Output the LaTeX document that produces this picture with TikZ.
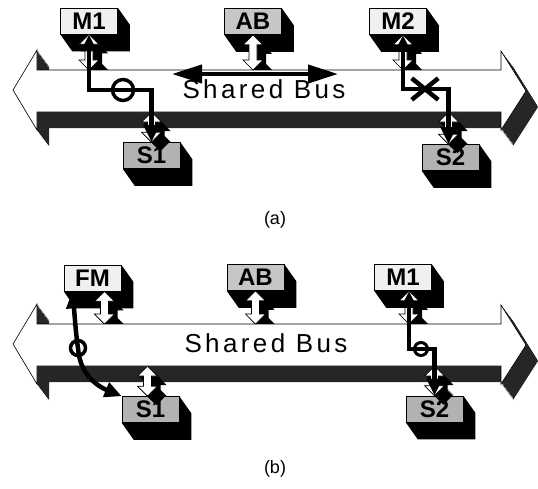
\documentclass[tikz,border=0pt]{standalone}
\usepackage{fontspec}
\setmainfont{Liberation Sans}
\newfontfamily\busfont[LetterSpace=13]{Liberation Sans}
\usetikzlibrary{arrows.meta,shapes.misc,calc}

% outline of a white two-way port arrow, shifted by #1 (x from \p1, ends from \p2 and \p3)
\newcommand{\portpoly}[1]{(\x1+#1,\y2-#1) -- (\x1+10pt+#1,\y2-10pt-#1) -- (\x1+4pt+#1,\y2-10pt-#1) -- (\x1+4pt+#1,\y3+10pt-#1) -- (\x1+10pt+#1,\y3+10pt-#1) -- (\x1+#1,\y3-#1) -- (\x1-10pt+#1,\y3+10pt-#1) -- (\x1-4pt+#1,\y3+10pt-#1) -- (\x1-4pt+#1,\y2-10pt-#1) -- (\x1-10pt+#1,\y2-10pt-#1) -- cycle}
\newcommand{\portarrow}[3]{%
  \foreach \k in {1,...,9}
    \fill[black] let \p1=(#1), \p2=(#2), \p3=(#3) in \portpoly{\k pt};
  \filldraw[fill=white, draw=black, line width=0.7pt] let \p1=(#1), \p2=(#2), \p3=(#3) in \portpoly{0pt};
}

\begin{document}
\begin{tikzpicture}[x=1pt, y=-1pt, >={Triangle[length=17pt,width=15pt]}]
        \tikzstyle{module}=[draw=black, line width=0.6pt, minimum width=57pt, minimum height=26pt, inner sep=0pt, font=\fontsize{24}{24}\selectfont\bfseries]
        \tikzstyle{master}=[fill=gray!12]
        \tikzstyle{arbiter}=[fill=gray!45]
        \tikzstyle{slave}=[fill=gray!60]
        \tikzstyle{signal}=[black, line width=4.5pt, <->]
        \tikzstyle{ring}=[circle, draw=black, line width=3.5pt, minimum size=21pt, inner sep=0pt]
        \tikzstyle{cross}=[cross out, draw=black, line width=4.5pt, minimum width=22pt, minimum height=17pt, inner sep=0pt]
        \tikzstyle{bustext}=[font=\fontsize{26}{26}\busfont]
        \tikzstyle{caption}=[font=\fontsize{18}{18}\selectfont]
        \def\buspoly{(13,90) -- (37,50) -- (37,70) -- (501,70) -- (501,51) -- (526,91) -- (501,130) -- (501,112) -- (37,112) -- (37,130) -- cycle}

        \useasboundingbox (0,0) rectangle (538,488);

        % Bus bodies (3d part)
        \foreach \dy in {0,254} {
          \begin{scope}[shift={(0,\dy)}]
            \foreach \k in {1,...,16}
              \fill[black!85, shift={(0.75*\k,\k)}] \buspoly;
          \end{scope}
        }
        \coordinate (busa_top) at (0,70);
        \coordinate (busa_bot) at (0,112);
        \coordinate (busb_top) at (0,324);
        \coordinate (busb_bot) at (0,366);

        % Modules (a)
        \node[module, master] (m1a) at (89,21) {M1};
        \node[module, arbiter] (aba) at (253,21.5) {AB};
        \node[module, master] (m2a) at (398,21.5) {M2};
        \node[module, slave] (s1a) at (151.5,155.5) {S1};
        \node[module, slave] (s2a) at (450.5,157.5) {S2};

        % Modules (b)
        \node[module, master] (fmb) at (92.5,278) {FM};
        \node[module, arbiter] (abb) at (255.5,277.5) {AB};
        \node[module, master] (m1b) at (403,277.5) {M1};
        \node[module, slave] (s1b) at (150.5,409.5) {S1};
        \node[module, slave] (s2b) at (434.5,409) {S2};

        \foreach \n in {m1a,aba,m2a,s1a,s2a,fmb,abb,m1b,s1b,s2b}
          \fill[black] (\n.north east) -- ++(12,17) -- ([shift={(12,17)}]\n.south east) -- ([shift={(12,17)}]\n.south west) -- (\n.south west) -- (\n.south east) -- cycle;

        % Ports
        \portarrow{m1a.south}{m1a.south}{busa_top}
        \portarrow{aba.south}{aba.south}{busa_top}
        \portarrow{[xshift=5pt]m2a.south}{m2a.south}{busa_top}
        \portarrow{s1a.north}{busa_bot}{s1a.north}
        \portarrow{[xshift=-2pt]s2a.north}{busa_bot}{s2a.north}
        \portarrow{[xshift=12pt]fmb.south}{fmb.south}{busb_top}
        \portarrow{abb.south}{abb.south}{busb_top}
        \portarrow{[xshift=6pt]m1b.south}{m1b.south}{busb_top}
        \portarrow{[xshift=-3pt]s1b.north}{busb_bot}{s1b.north}
        \portarrow{s2b.north}{busb_bot}{s2b.north}

        % Bus faces
        \foreach \dy in {0,254}
          \filldraw[fill=white, draw=black, line width=0.6pt, shift={(0,\dy)}] \buspoly;
        \node[bustext] (bus_a) at (264,89) {Shared Bus};
        \node[bustext] (bus_b) at (266,343) {Shared Bus};

        % Transfers (a)
        \node[ring] (ring_a) at (123,90) {};
        \draw[signal] (m1a.south) |- (ring_a.center) -| (s1a.north);
        \node[cross] (cross_a) at (425,89) {};
        \draw[signal] ([xshift=5pt]m2a.south) |- (cross_a.center) -| ([xshift=-2pt]s2a.north);
        \coordinate (arb_l) at (172,74);
        \coordinate (arb_r) at (338,74);
        \draw[line width=4pt, {Triangle[length=30pt,width=18pt]}-{Triangle[length=30pt,width=18pt]}] (arb_l) -- (arb_r);

        % Transfers (b)
        \node[ring, minimum size=15pt] (ring_b1) at (78,348) {};
        \draw[signal] ([xshift=-20pt]fmb.south) .. controls (75,320) and (76,335) .. (ring_b1.center) .. controls (80,378) and (102,388) .. (s1b.north west);
        \node[ring, minimum size=13pt, line width=3pt] (ring_b2) at (421,349) {};
        \draw[signal] ([xshift=6pt]m1b.south) |- (ring_b2.center) -| (s2b.north);

        \node[caption] (cap_a) at (275,220) {(a)};
        \node[caption] (cap_b) at (275,469) {(b)};
\end{tikzpicture}
\end{document}
